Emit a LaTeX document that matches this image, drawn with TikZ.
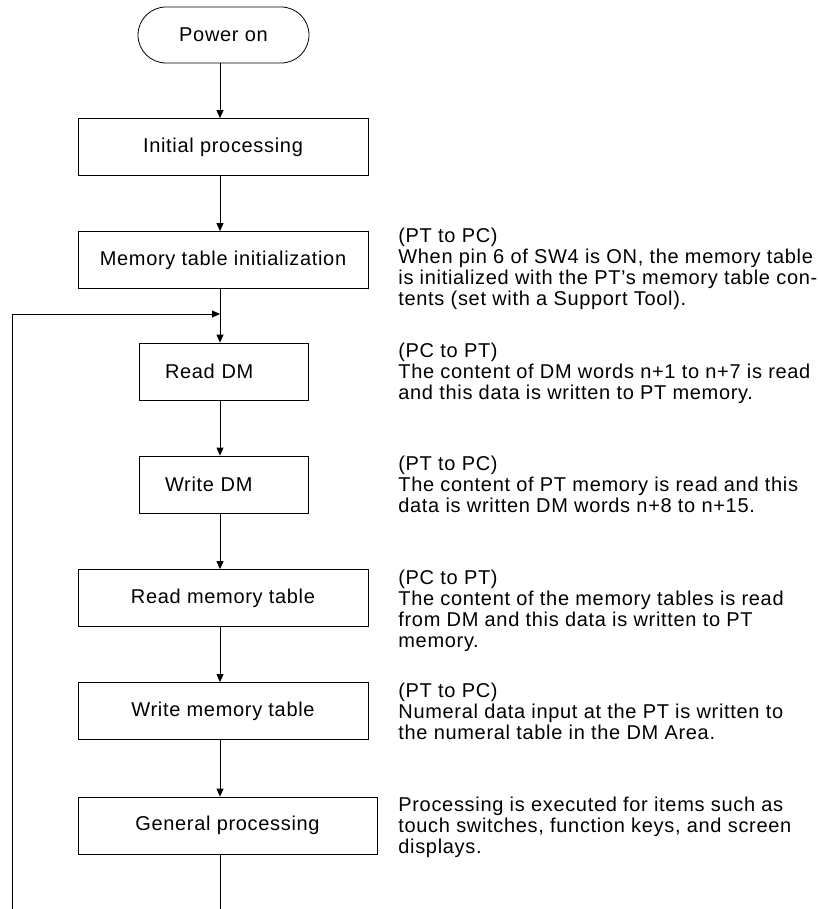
\documentclass[tikz,border=0pt]{standalone}
\usepackage{fontspec}
\setmainfont{Liberation Sans}[LetterSpace=3.4]
\usetikzlibrary{arrows.meta}

\tikzset{
  procbox/.style={draw, rectangle, minimum width=290pt, minimum height=57pt, inner sep=0pt},
  shortbox/.style={procbox, minimum width=169pt, text width=117pt, align=left, inner xsep=26pt},
  termbox/.style={draw, rectangle, rounded corners=28pt, minimum width=171pt, minimum height=56pt, inner sep=0pt},
  note/.style={anchor=north west, align=left, inner sep=0pt},
  flow/.style={-{Triangle[length=8pt,width=7pt]}},
}

\begin{document}
\begin{tikzpicture}[x=1pt,y=-1pt,font=\fontsize{20}{21}\selectfont,line width=0.8pt]
\useasboundingbox (0,0) rectangle (818,909);
\coordinate (spine) at (220,0);

% main column
\node[termbox] (power) at (223.5,35) {Power on};
\node[procbox] (init) at (223,147) {Initial processing};
\node[procbox] (meminit) at (223,260) {Memory table initialization};
\node[shortbox] (readdm) at (223.5,371.5) {Read DM};
\node[shortbox] (writedm) at (223.5,484.5) {Write DM};
\node[procbox] (readmt) at (223,598) {Read memory table};
\node[procbox] (writemt) at (223,711) {Write memory table};
\node[procbox, minimum width=299pt] (gen) at (227.5,825.5) {General processing};

% notes
\node[note] (n1) at (398,228) {(PT to PC)\\When pin 6 of SW4 is ON, the memory table\\is initialized with the PT's memory table con-\\tents (set with a Support Tool).};
\node[note] (n2) at (398,343) {(PC to PT)\\The content of DM words n+1 to n+7 is read\\and this data is written to PT memory.};
\node[note] (n3) at (398,456) {(PT to PC)\\The content of PT memory is read and this\\data is written DM words n+8 to n+15.};
\node[note] (n4) at (398,570) {(PC to PT)\\The content of the memory tables is read\\from DM and this data is written to PT\\memory.};
\node[note] (n5) at (398,683) {(PT to PC)\\Numeral data input at the PT is written to\\the numeral table in the DM Area.};
\node[note] (n6) at (398,797) {Processing is executed for items such as\\touch switches, function keys, and screen\\displays.};

% connectors
\coordinate (join) at (220,314);
\coordinate (turn) at (12,314);
\coordinate (endloop) at (12,909);
\coordinate (endmain) at (220,909);
\draw[flow] (power.south -| spine) -- (init.north -| spine);
\draw[flow] (init.south -| spine) -- (meminit.north -| spine);
\draw (meminit.south -| spine) -- (join);
\draw[flow] (join) -- (readdm.north -| spine);
\draw[flow] (readdm.south -| spine) -- (writedm.north -| spine);
\draw[flow] (writedm.south -| spine) -- (readmt.north -| spine);
\draw[flow] (readmt.south -| spine) -- (writemt.north -| spine);
\draw[flow] (writemt.south -| spine) -- (gen.north -| spine);
\draw (gen.south -| spine) -- (endmain);
\draw[flow] (endloop) -- (turn) -- (join);
\end{tikzpicture}
\end{document}
